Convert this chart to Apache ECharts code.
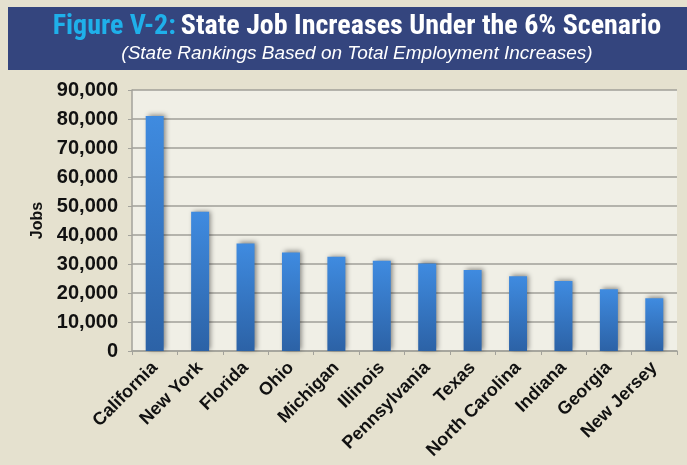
<!DOCTYPE html>
<html><head><meta charset="utf-8">
<script src="https://cdn.jsdelivr.net/npm/echarts@6/dist/echarts.min.js"></script>
<style>html,body{margin:0;padding:0;background:#e5e1cf;}#c{width:687px;height:465px;}</style>
</head><body><div id="c"></div>
<script>
const categories = ['California','New York','Florida','Ohio','Michigan','Illinois','Pennsylvania','Texas','North Carolina','Indiana','Georgia','New Jersey'];
const jobs = [81000, 48000, 37100, 34000, 32500, 31100, 30200, 27900, 25800, 24100, 21300, 18200];
const yTicks = {min: 0, max: 90000, interval: 10000};

const condensed = 'Liberation Sans Narrow, Roboto Condensed, Arial Narrow, Liberation Sans, sans-serif';
const chart = echarts.init(document.getElementById('c'));
chart.setOption({
  backgroundColor: '#e5e1cf',
  animation: false,
  graphic: [
    {type: 'rect', shape: {x: 8, y: 7, width: 679, height: 63}, style: {fill: '#34457e'}, z: 0},
    {type: 'rect', shape: {x: 132, y: 90, width: 545, height: 261}, style: {fill: '#f0efe6'}, z: 0}
  ],
  title: {
    text: '{a|Figure V-2:} {b|State Job Increases Under the 6% Scenario}',
    subtext: '(State Rankings Based on Total Employment Increases)',
    left: 352, top: 8, textAlign: 'center', itemGap: 3,
    textStyle: {
      rich: {
        a: {color: '#1fb0ea', fontSize: 28, fontWeight: 'bold', fontFamily: condensed},
        b: {color: '#ffffff', fontSize: 28, fontWeight: 'bold', fontFamily: condensed}
      }
    },
    subtextStyle: {color: '#ffffff', fontSize: 19, fontStyle: 'italic', fontFamily: 'Liberation Sans, Arial, sans-serif'}
  },
  grid: {left: 132, right: 10, top: 90, bottom: 114, containLabel: false},
  xAxis: {
    type: 'category', data: categories,
    axisLine: {lineStyle: {color: '#a3a29b', width: 1.5}},
    axisTick: {show: true, alignWithLabel: false, lineStyle: {color: '#a3a29b'}, length: 4},
    axisLabel: {rotate: 45, color: '#111', fontSize: 18, fontFamily: 'Liberation Sans, Arial, sans-serif', fontWeight: 'bold', margin: 14, interval: 0}
  },
  yAxis: {
    type: 'value', min: yTicks.min, max: yTicks.max, interval: yTicks.interval,
    name: 'Jobs', nameLocation: 'middle', nameGap: 84, nameRotate: 90,
    nameTextStyle: {color: '#111', fontSize: 16, fontWeight: 'bold', fontFamily: 'Liberation Sans, Arial, sans-serif'},
    axisLine: {show: true, lineStyle: {color: '#a3a29b', width: 1.5}},
    axisTick: {show: true, length: 4, lineStyle: {color: '#a3a29b'}},
    splitLine: {lineStyle: {color: '#a09f98', width: 1.5}},
    axisLabel: {color: '#111', fontSize: 20, fontWeight: 'bold', fontFamily: 'Liberation Sans, Arial, sans-serif', margin: 14,
      formatter: v => v.toLocaleString('en-US')}
  },
  series: [{
    type: 'bar', data: jobs, barWidth: 18,
    itemStyle: {
      color: new echarts.graphic.LinearGradient(0, 0, 0, 1, [
        {offset: 0, color: '#3f8be0'}, {offset: 1, color: '#2c62a6'}
      ]),
      shadowColor: 'rgba(0,0,0,0.45)', shadowBlur: 5, shadowOffsetX: 2, shadowOffsetY: -1
    }
  }]
});
</script></body></html>
